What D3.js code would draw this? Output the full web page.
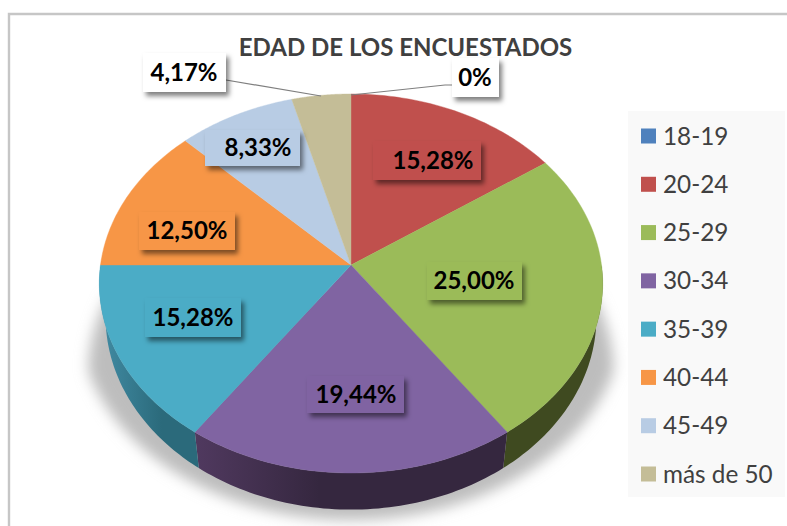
<!DOCTYPE html>
<html><head><meta charset="utf-8">
<style>html,body{margin:0;padding:0;background:#fff}svg{display:block}text{font-family:Lato,"Noto Sans",sans-serif}</style>
<script src="https://cdn.jsdelivr.net/npm/d3@7"></script>
</head><body><svg id="c" width="787" height="526"></svg>
<script>
const categories=["18-19","20-24","25-29","30-34","35-39","40-44","45-49","más de 50"];
const values=[0,15.28,25.00,19.44,15.28,12.50,8.33,4.17];
const valueLabels=["0%","15,28%","25,00%","19,44%","15,28%","12,50%","8,33%","4,17%"];
const colors=["#4f81bd","#c0504d","#9bbb59","#8064a2","#4bacc6","#f79646","#b8cce4","#c4bd97"];
const sideDark=["#2f4d71","#73302e","#3f4a20","#35273f","#2b6a7b","#94592a","#6e7a88","#75715a"];
const sideLight=["#2f4d71","#73302e","#3f4a20","#50395f","#418ba3","#94592a","#6e7a88","#75715a"];
const title="EDAD DE LOS ENCUESTADOS";
// label boxes: [x0,y0,x1,y1,textCenterX]
const labelBoxes=[[452,58,499,97,475],[373,141,481,180,433],[427,262,522,300,474],[307,376,404,413,356],[145,298,241,337,193],[139,212,235,250,187],[205,130,300,166,258],[143,53,226,92,184]];
const leaders=[[[351,95],[445,85],[458,85]],null,null,null,null,null,null,[[321,96],[226,80]]];

const svg=d3.select("#c"),defs=svg.append("defs");
const W=787,H=526,cx=351,cy=265,rx=250.5,by=187.7,p=0.0976,depth=36,rimX=0.975;
const proj=(t,r=1)=>{const u=r*Math.sin(t),v=-r*Math.cos(t),s=1/(1-p*v);return [cx+u*rx*s,cy+v*by*s];};
const rim=(t)=>{const q=proj(t);const s=1/(1+p*Math.cos(t));return [cx+(q[0]-cx)*rimX,q[1]+depth*s/1.09];};
const line=d3.line();
const arcPts=(a,b,f)=>d3.range(0,61).map(i=>f(a+(b-a)*i/60));

// chart frame
svg.append("path").attr("d",d3.line()([[9,H],[9,14],[W,14]])).attr("fill","none").attr("stroke","#c6c6c6").attr("stroke-width",2.4);

// ground shadow
defs.append("filter").attr("id","blur").attr("x","-20%").attr("y","-20%").attr("width","140%").attr("height","140%").append("feGaussianBlur").attr("stdDeviation",7);
const shadowPts=arcPts(Math.PI/2,Math.PI*1.5,t=>{const q=rim(t);const f=Math.min(1,Math.max(0,(q[1]-298)/70));return [cx+(q[0]-cx)*(1+0.11*f),300+(q[1]-300)*1.05];});
svg.append("path").attr("d",line(shadowPts)+"Z").attr("fill","#bdbdbd").attr("filter","url(#blur)");

// pie layout
const pie=d3.pie().value(d=>d).sort(null)(values);

// side wall
pie.forEach((d,i)=>{
  if(d.value===0)return;
  const a=Math.max(d.startAngle,Math.PI/2),b=Math.min(d.endAngle,Math.PI*1.5);
  if(b<=a)return;
  const g=defs.append("linearGradient").attr("id","side"+i).attr("gradientUnits","userSpaceOnUse")
    .attr("x1",proj(a)[0]).attr("x2",proj(b)[0]).attr("y1",0).attr("y2",0);
  const isLeft=a>=Math.PI;
  g.append("stop").attr("offset",0).attr("stop-color",sideDark[i]);
  g.append("stop").attr("offset",isLeft?0.35:0.6).attr("stop-color",sideDark[i]);
  g.append("stop").attr("offset",1).attr("stop-color",sideLight[i]);
  const pts=arcPts(a,b,proj).concat(arcPts(b,a,rim));
  svg.append("path").attr("d",line(pts)+"Z").attr("fill",`url(#side${i})`);
});

// top face
pie.forEach((d,i)=>{
  if(d.value===0)return;
  const pts=[[cx,cy]].concat(arcPts(d.startAngle,d.endAngle,proj));
  svg.append("path").attr("d",line(pts)+"Z").attr("fill",colors[i]).attr("stroke",colors[i]).attr("stroke-width",0.4);
});

// title
svg.append("text").attr("x",405.5).attr("y",56).attr("text-anchor","middle").attr("font-size",24).attr("font-weight",700).attr("fill","#404040").text(title);

// leaders
leaders.forEach(l=>{if(l)svg.append("path").attr("d",line(l)).attr("fill","none").attr("stroke","#7f7f7f").attr("stroke-width",1.2);});

// data labels
defs.append("filter").attr("id","ds").attr("x","-20%").attr("y","-30%").attr("width","150%").attr("height","170%").append("feDropShadow")
  .attr("dx",3).attr("dy",4).attr("stdDeviation",2.5).attr("flood-color","#000").attr("flood-opacity",0.5);
const labelFill=[ "#ffffff",colors[1],colors[2],colors[3],colors[4],colors[5],colors[6],"#ffffff"];
labelBoxes.forEach((b,i)=>{
  svg.append("rect").attr("x",b[0]).attr("y",b[1]).attr("width",b[2]-b[0]).attr("height",b[3]-b[1]).attr("fill",labelFill[i]).attr("filter","url(#ds)");
  svg.append("text").attr("x",b[4]).attr("y",(b[1]+b[3])/2+8).attr("text-anchor","middle").attr("font-size",24).attr("font-weight",700).attr("fill","#000").text(valueLabels[i]);
});

// legend
svg.append("rect").attr("x",628).attr("y",111).attr("width",157).attr("height",386).attr("fill","#f9f9f9");
const ly=d3.scalePoint().domain(categories).range([136,474]);
categories.forEach((c,i)=>{
  svg.append("rect").attr("x",641).attr("y",ly(c)-7.5).attr("width",15).attr("height",15).attr("fill",colors[i]);
  svg.append("text").attr("x",663).attr("y",ly(c)+8.5).attr("font-size",24.3).attr("fill","#404040").text(c);
});
</script></body></html>
